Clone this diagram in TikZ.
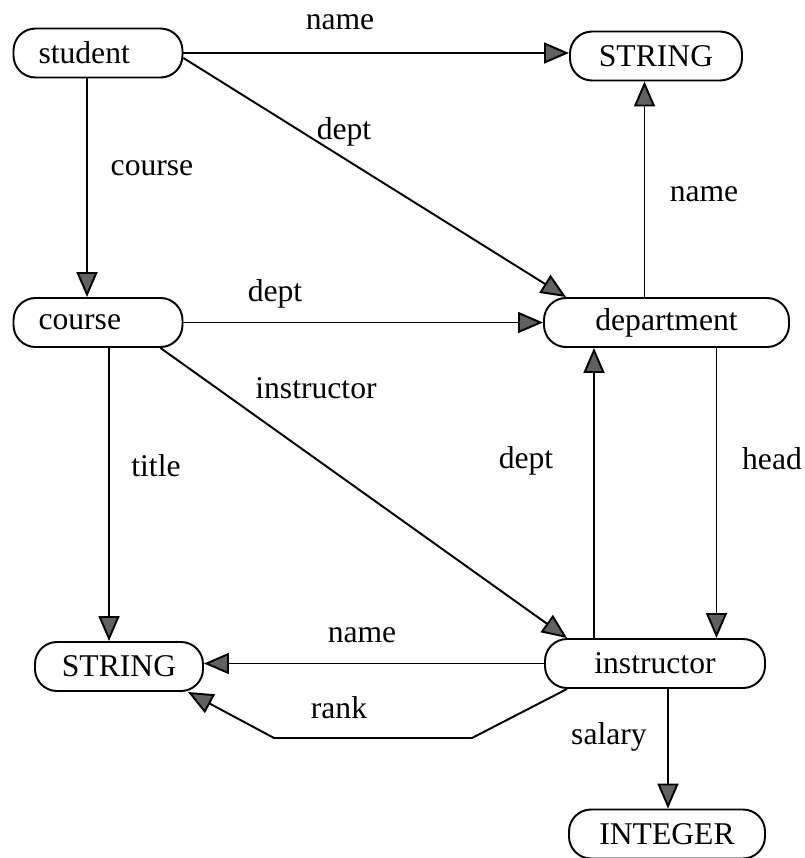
\documentclass[tikz,border=0pt]{standalone}
\usepackage{fontspec}
\setmainfont{Liberation Serif}
\usetikzlibrary{positioning,arrows.meta}

\tikzset{
  box/.style={draw, line width=1.1pt, rounded corners=0.44cm, inner sep=0pt,
    minimum height=0.98cm, font=\fontsize{18}{20}\selectfont},
  leftbox/.style={box, align=left, inner xsep=0.5cm, text width=2.38cm},
  lbl/.style={font=\fontsize{18}{20}\selectfont, inner sep=1pt},
  arr/.style={line width=1.1pt,
    -{Triangle[length=0.5cm, width=0.42cm, fill=black!62]}}
}

\begin{document}
\begin{tikzpicture}[on grid]
   \useasboundingbox (0,0) rectangle (16.1,-17.16);

   % schema nodes
   \node[leftbox, minimum width=3.38cm] (student) at (1.96,-1.06) {student};
   \node[box, minimum width=3.44cm, below right=0.06cm and 11.16cm of student] (str1) {STRING};
   \node[leftbox, minimum width=3.36cm, below=5.39cm of student]  (course) {course};
   \node[box, minimum width=4.9cm, right=11.37cm of course]       (department) {department};
   \node[box, minimum width=3.36cm, below right=6.88cm and 0.42cm of course] (str2) {STRING};
   \node[box, minimum width=4.4cm, below left=6.82cm and 0.23cm of department] (instructor) {instructor};
   \node[box, minimum width=3.92cm, below right=3.41cm and 0.24cm of instructor] (integer) {INTEGER};

   % attributes
   \draw[arr] (student.east) -- (student.east -| str1.west);
   \draw[arr] ([yshift=-0.1cm]student.east) -- ([xshift=0.46cm]department.north west);
   \draw[arr] ([xshift=-0.22cm]student.south) -- ([xshift=-0.22cm]student.south |- course.north);
   \draw[arr] ([xshift=-0.44cm]department.north) -- ([xshift=-0.44cm]department.north |- str1.south);
   \draw[arr] (course.east) -- (department.west);
   \draw[arr] ([xshift=-0.46cm]course.south east) -- ([xshift=0.46cm]instructor.north west);
   \draw[arr] ([xshift=0.22cm]course.south) -- ([xshift=0.22cm]course.south |- str2.north);
   \draw[arr] ([xshift=-1.22cm]instructor.north) -- ([xshift=-1.22cm]instructor.north |- department.south);
   \draw[arr] ([xshift=1cm]department.south) -- ([xshift=1cm]department.south |- instructor.north);
   \draw[arr] (instructor.west) -- (instructor.west -| str2.east);
   \draw[arr] ([xshift=0.46cm]instructor.south west) -- ++(-1.9,-0.98) -- ++(-3.96,0)
      -- ([xshift=-0.32cm]str2.south east);
   \draw[arr] ([xshift=0.26cm]instructor.south) -- ([xshift=0.26cm]instructor.south |- integer.north);

   % labels
   \node[lbl] (lname1)  at (6.80,-0.44)  {name};
   \node[lbl] (ldept1)  at (6.88,-2.64)  {dept};
   \node[lbl] (lcourse) at (3.04,-3.36)  {course};
   \node[lbl] (lname2)  at (14.08,-3.88) {name};
   \node[lbl] (ldept2)  at (5.50,-5.88)  {dept};
   \node[lbl] (linstr)  at (6.32,-7.76)  {instructor};
   \node[lbl] (ltitle)  at (3.12,-9.32)  {title};
   \node[lbl] (ldept3)  at (10.52,-9.22) {dept};
   \node[lbl] (lhead)   at (15.44,-9.18) {head};
   \node[lbl] (lname3)  at (7.24,-12.70) {name};
   \node[lbl] (lrank)   at (6.78,-14.16) {rank};
   \node[lbl] (lsalary) at (12.18,-14.74) {salary};
\end{tikzpicture}
\end{document}
